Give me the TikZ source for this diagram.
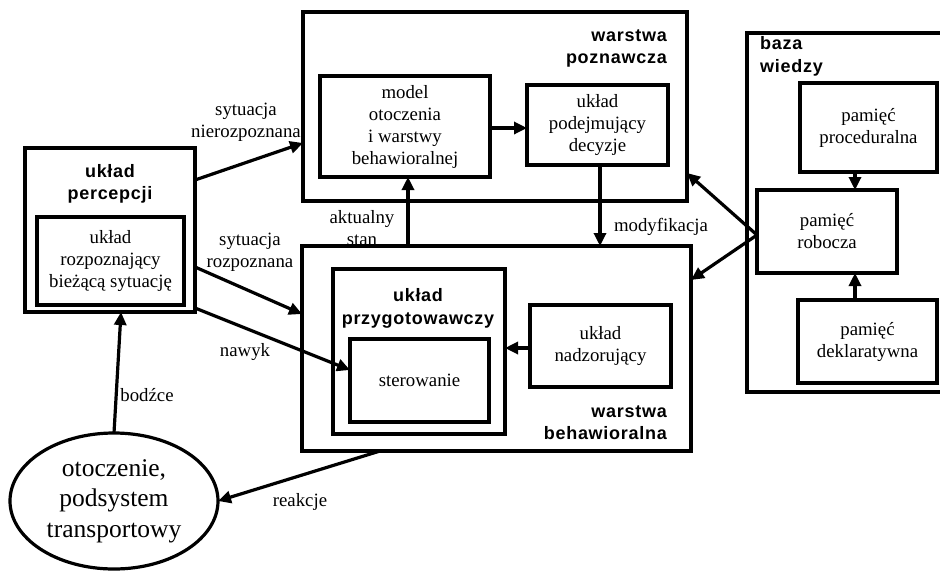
\documentclass[tikz,border=0pt]{standalone}
\usepackage{fontspec}
\setmainfont{Liberation Serif}
\newfontfamily\lblfont[LetterSpace=4]{Liberation Sans}
\usetikzlibrary{arrows.meta,shapes.geometric}
\newcommand\dtxt{\fontsize{18.8}{22}\selectfont}
\newcommand\dbig{\fontsize{25.5}{30.5}\selectfont}
\newcommand\dbl{\lblfont\bfseries\fontsize{18}{22.5}\selectfont}
\begin{document}
\begin{tikzpicture}[x=1pt,y=-1pt,
  box/.style={draw, line width=3.2pt, inner sep=0pt, outer sep=0pt, align=center, font=\dtxt},
  txt/.style={inner sep=0pt, align=center, font=\dtxt},
  bl/.style={inner sep=0pt, font=\dbl},
  arr/.style={line width=3.2pt, -{Triangle[length=13pt,width=12pt]}}]
\useasboundingbox[fill=white] (0,0) rectangle (940,571);
% outer boxes
\node[box, minimum width=170, minimum height=164] (perc) at (110,230) {};
\node[box, minimum width=384, minimum height=189] (pozn) at (495,106.5) {};
\node[box, minimum width=389, minimum height=205] (beh) at (496.5,348.5) {};
\node[box, minimum width=213, minimum height=359] (baza) at (853.5,212.5) {};
% inner boxes
\node[box, minimum width=147, minimum height=88] (rozp) at (110.5,261) {układ\\rozpoznający\\bieżącą sytuację};
\node[box, minimum width=170, minimum height=101] (model) at (405,126.5) {model\\otoczenia\\i warstwy\\behawioralnej};
\node[box, minimum width=141, minimum height=80] (decy) at (597.5,125) {układ\\podejmujący\\decyzje};
\node[box, minimum width=137, minimum height=89] (proc) at (868.5,127.5) {pamięć\\proceduralna};
\node[box, minimum width=140, minimum height=83] (rob) at (827,231.5) {pamięć\\robocza};
\node[box, minimum width=139, minimum height=83] (dekl) at (867.5,341.5) {pamięć\\deklaratywna};
\node[box, minimum width=172, minimum height=165] (przy) at (419,351.5) {};
\node[box, minimum width=139, minimum height=83] (ster) at (419.5,380.5) {sterowanie};
\node[box, minimum width=141, minimum height=82] (nadz) at (600.5,346) {układ\\nadzorujący};
\node[draw, ellipse, line width=3.2pt, inner sep=0pt, outer sep=0pt, minimum width=208, minimum height=136, align=center, font=\dbig] (ell) at (114,501) {otoczenie,\\podsystem\\transportowy};
% bold titles
\node[bl, align=center] (percT) at (110,184) {układ\\percepcji};
\node[bl, align=right, anchor=east] (poznT) at (667,48.5) {warstwa\\poznawcza};
\node[bl, align=left, anchor=west] (bazaT) at (760,56.5) {baza\\wiedzy};
\node[bl, align=center] (przyT) at (418,308.5) {układ\\przygotowawczy};
\node[bl, align=right, anchor=east] (behT) at (667,422.5) {warstwa\\behawioralna};
% connectors
\draw[arr] (perc.east |- 0,180) -- (pozn.west |- 0,143);
\draw[arr] (perc.east |- 0,267) -- (beh.west |- 0,314);
\draw[arr] (perc.east |- 0,308) -- (ster.west |- 0,370);
\draw[arr] (ell.north) -- (perc.south -| 121,0);
\draw[arr] (beh.south -| 380,0) -- (ell.east);
\draw[arr] (beh.north -| 408,0) -- (model.south -| 408,0);
\draw[arr] (decy.south -| 600,0) -- (beh.north -| 600,0);
\draw[arr] (model.east |- 0,128) -- (decy.west |- 0,128);
\draw[arr] (nadz.west |- 0,348) -- (przy.east |- 0,348);
\draw[arr] (rob.west |- 0,235) -- (pozn.east |- 0,173);
\draw[arr] (rob.west |- 0,235) -- (beh.east |- 0,280);
\draw[arr] (proc.south -| 855,0) -- (rob.north -| 855,0);
\draw[arr] (dekl.north -| 855,0) -- (rob.south -| 855,0);
% connector labels
\node[txt] (l1) at (246,122) {sytuacja\\nierozpoznana};
\node[txt] (l2) at (250,252.5) {sytuacja\\rozpoznana};
\node[txt] (l3) at (245,352) {nawyk};
\node[txt] (l4) at (147,395) {bodźce};
\node[txt] (l5) at (300,502) {reakcje};
\node[txt] (l6) at (362,228) {aktualny\\stan};
\node[txt] (l7) at (661,227) {modyfikacja};
\end{tikzpicture}
\end{document}
